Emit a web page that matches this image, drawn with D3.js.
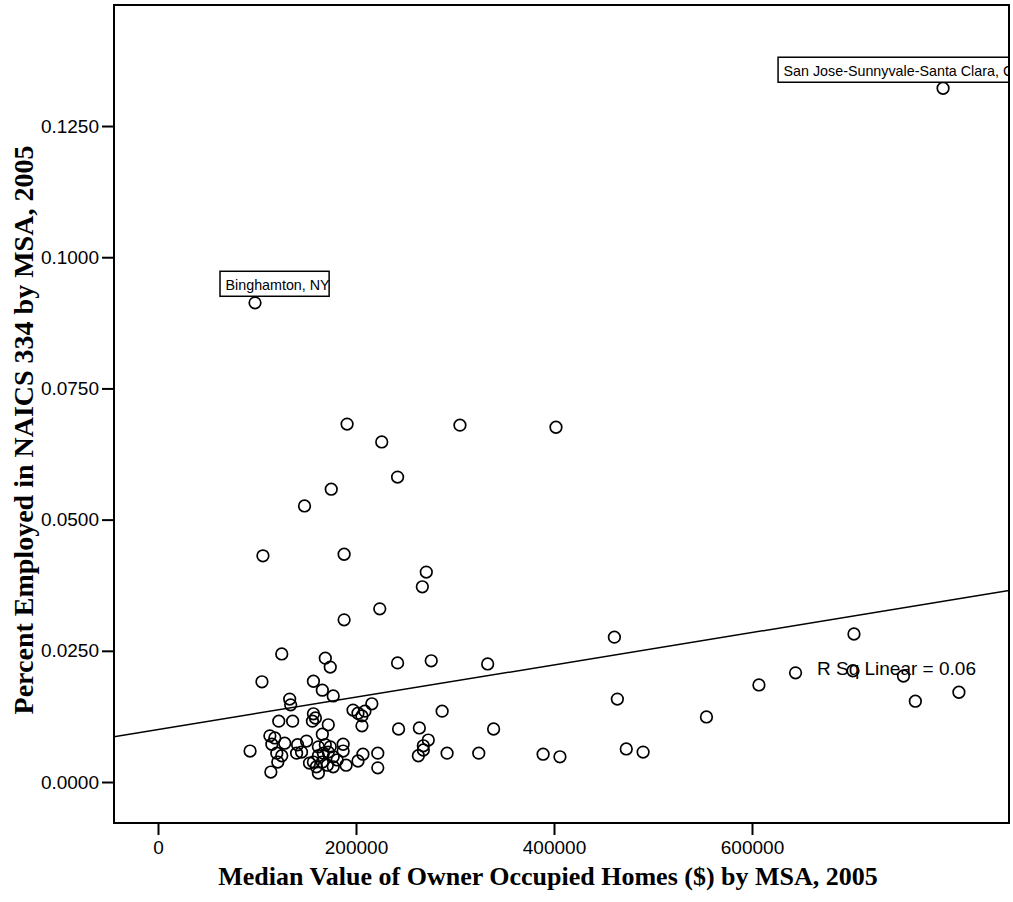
<!DOCTYPE html>
<html>
<head>
<meta charset="utf-8">
<script src="https://cdn.jsdelivr.net/npm/d3@7"></script>
<style>
  html, body { margin: 0; padding: 0; background: #fff; }
  svg { display: block; }
</style>
</head>
<body>
<div id="chart"></div>
<script>
// ---- Data ----
const homeValues = [
  793000, 98000, 191000, 305000, 402000, 226000, 242000, 175000, 148000, 106000,
  188000, 271000, 267000, 224000, 188000, 461000, 703000, 644000, 702000, 753000,
  607000, 765000, 809000, 464000, 554000, 473000, 490000, 242000, 276000, 333000,
  287000, 243000, 264000, 273000, 268000, 268000, 263000, 292000, 324000, 389000,
  406000, 339000, 105000, 93000, 125000, 169000, 174000, 157000, 166000, 177000,
  133000, 134000, 216000, 197000, 202000, 209000, 206000, 157000, 159000, 122000,
  136000, 172000, 156000, 206000, 166000, 113000, 118000, 128000, 115000, 141000,
  150000, 145000, 140000, 120000, 125000, 121000, 114000, 162000, 169000, 174000,
  187000, 187000, 157000, 162000, 167000, 172000, 177000, 166000, 160000, 171000,
  177000, 190000, 162000, 181000, 202000, 207000, 222000, 222000, 153000
];
const pctEmployed = [
  0.1322, 0.0913, 0.0682, 0.0680, 0.0676, 0.0648, 0.0581, 0.0558, 0.0526, 0.0431,
  0.0434, 0.0400, 0.0372, 0.0330, 0.0309, 0.0276, 0.0282, 0.0208, 0.0212, 0.0202,
  0.0185, 0.0154, 0.0171, 0.0158, 0.0124, 0.0063, 0.0057, 0.0227, 0.0231, 0.0225,
  0.0135, 0.0101, 0.0103, 0.0080, 0.0069, 0.0061, 0.0050, 0.0055, 0.0055, 0.0053,
  0.0048, 0.0101, 0.0191, 0.0059, 0.0244, 0.0236, 0.0219, 0.0192, 0.0175, 0.0164,
  0.0158, 0.0147, 0.0149, 0.0137, 0.0131, 0.0135, 0.0126, 0.0130, 0.0122, 0.0116,
  0.0116, 0.0109, 0.0116, 0.0107, 0.0091, 0.0088, 0.0084, 0.0074, 0.0072, 0.0071,
  0.0078, 0.0057, 0.0055, 0.0055, 0.0050, 0.0038, 0.0019, 0.0067, 0.0071, 0.0067,
  0.0072, 0.0059, 0.0038, 0.0050, 0.0055, 0.0057, 0.0048, 0.0038, 0.0029, 0.0032,
  0.0029, 0.0032, 0.0017, 0.0042, 0.0040, 0.0053, 0.0055, 0.0027, 0.0036
];
const labelNames = ["San Jose-Sunnyvale-Santa Clara, CA", "Binghamton, NY"];
const labelIndex = [0, 1];
const xTicks = [0, 200000, 400000, 600000];
const yTicks = [0, 0.025, 0.05, 0.075, 0.1, 0.125];
const fitIntercept = 0.0100;
const fitSlope = 3.08e-8;
const rSqText = "R Sq Linear = 0.06";
const xTitle = "Median Value of Owner Occupied Homes ($) by MSA, 2005";
const yTitle = "Percent Employed in NAICS 334 by MSA, 2005";
const xDomain = [-44444, 859600];
const yDomain = [-0.00781, 0.14806];

// ---- Layout ----
const W = 1013, H = 902;
const L = 114, T = 5, R = 1009, B = 823;
const labelLayout = [ {dx: -165, dy: -6}, {dx: -35, dy: -6.6} ];

const svg = d3.select("#chart").append("svg")
  .attr("width", W).attr("height", H);

const x = d3.scaleLinear().domain(xDomain).range([L, R]);
const y = d3.scaleLinear().domain(yDomain).range([B, T]);

svg.append("defs").append("clipPath").attr("id", "plotclip")
  .append("rect").attr("x", L).attr("y", T).attr("width", R - L).attr("height", B - T);

const plot = svg.append("g").attr("clip-path", "url(#plotclip)");

// fit line
plot.append("line")
  .attr("x1", x(xDomain[0])).attr("y1", y(fitIntercept + fitSlope * xDomain[0]))
  .attr("x2", x(xDomain[1])).attr("y2", y(fitIntercept + fitSlope * xDomain[1]))
  .attr("stroke", "#000").attr("stroke-width", 1.5);

// points
const pts = homeValues.map((v, i) => ({x: v, y: pctEmployed[i]}));
plot.selectAll("circle.pt").data(pts).join("circle")
  .attr("class", "pt")
  .attr("cx", d => x(d.x)).attr("cy", d => y(d.y))
  .attr("r", 5.8)
  .attr("fill", "none").attr("stroke", "#000").attr("stroke-width", 1.7);

// R sq text
plot.append("text")
  .attr("x", 817).attr("y", 675)
  .attr("font-family", "'Liberation Sans', Arial, sans-serif")
  .attr("font-size", 19).attr("fill", "#000")
  .text(rSqText);

// point labels (the reference clips the long one at the frame)
labelIndex.forEach((pi, k) => {
  const px = x(homeValues[pi]), py = y(pctEmployed[pi]);
  const lay = labelLayout[k];
  const bx = px + lay.dx, bBottom = py + lay.dy, bh = 25;
  const g = plot.append("g");
  const t = g.append("text")
    .attr("x", bx + 5.5).attr("y", bBottom - 6.5)
    .attr("font-family", "'Liberation Sans', Arial, sans-serif")
    .attr("font-size", 14.3).attr("fill", "#000")
    .text(labelNames[k]);
  const tw = t.node().getComputedTextLength();
  g.insert("rect", "text")
    .attr("x", bx).attr("y", bBottom - bh)
    .attr("width", tw + 5).attr("height", bh)
    .attr("fill", "#fff").attr("stroke", "#000").attr("stroke-width", 1.5);
});

// frame
svg.append("rect").attr("x", L).attr("y", T).attr("width", R - L).attr("height", B - T)
  .attr("fill", "none").attr("stroke", "#000").attr("stroke-width", 2);

// axes
const tickFont = "'Liberation Sans', Arial, sans-serif";
const yAxis = svg.append("g").attr("transform", `translate(${L},0)`)
  .call(d3.axisLeft(y).tickValues(yTicks).tickFormat(d3.format(".4f")).tickSize(12).tickPadding(3));
const xAxis = svg.append("g").attr("transform", `translate(0,${B})`)
  .call(d3.axisBottom(x).tickValues(xTicks).tickFormat(d3.format("d")).tickSize(12).tickPadding(6));
[xAxis, yAxis].forEach(a => {
  a.select(".domain").remove();
  a.selectAll(".tick line").attr("stroke", "#000").attr("stroke-width", 2);
  a.selectAll(".tick text").attr("fill", "#000")
    .attr("font-family", tickFont).attr("font-size", 19);
});

// titles
svg.append("text")
  .attr("x", 548).attr("y", 885)
  .attr("text-anchor", "middle")
  .attr("font-family", "'Liberation Serif', 'Times New Roman', serif")
  .attr("font-weight", "bold").attr("font-size", 26)
  .text(xTitle);
svg.append("text")
  .attr("transform", "translate(33,430) rotate(-90)")
  .attr("text-anchor", "middle")
  .attr("font-family", "'Liberation Serif', 'Times New Roman', serif")
  .attr("font-weight", "bold").attr("font-size", 28)
  .text(yTitle);
</script>
</body>
</html>
